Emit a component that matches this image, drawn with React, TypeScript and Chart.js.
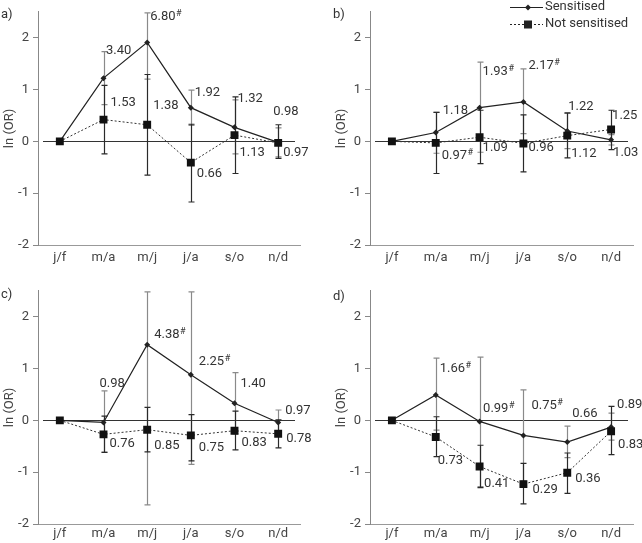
import React, { useEffect, useRef } from "react";
import { Chart, registerables } from "chart.js";

Chart.register(...registerables);

// ---------- data ----------
const categories = ["j/f", "m/a", "m/j", "j/a", "s/o", "n/d"];
const yTickValues = [-2, -1, 0, 1, 2];
const seriesNames = ["Sensitised", "Not sensitised"];

// panel a
const aSens = [0, 1.22, 1.91, 0.65, 0.27, -0.02];
const aSensLo = [null, 0.71, 1.2, 0.31, -0.24, -0.3];
const aSensHi = [null, 1.73, 2.48, 0.99, 0.8, 0.26];
const aNot = [0, 0.42, 0.32, -0.41, 0.12, -0.03];
const aNotLo = [null, -0.24, -0.65, -1.17, -0.62, -0.33];
const aNotHi = [null, 1.08, 1.29, 0.33, 0.86, 0.32];
const aLabels = ["6.80#", "3.40", "1.53", "1.38", "1.92", "1.32", "0.98", "0.66", "1.13", "0.97"];
const aLabelCat = [2, 1, 1, 2, 3, 4, 5, 3, 4, 5];
const aLabelY = [2.4, 1.75, 0.74, 0.68, 0.93, 0.83, 0.57, -0.62, -0.22, -0.22];

// panel b
const bSens = [0, 0.17, 0.65, 0.76, 0.2, 0.03];
const bSensLo = [null, -0.23, -0.21, 0.15, -0.14, -0.07];
const bSensHi = [null, 0.56, 1.53, 1.4, 0.54, 0.13];
const bNot = [0, -0.03, 0.08, -0.04, 0.11, 0.23];
const bNotLo = [null, -0.62, -0.43, -0.59, -0.32, -0.16];
const bNotHi = [null, 0.56, 0.6, 0.51, 0.55, 0.6];
const bLabels = ["1.18", "1.93#", "2.17#", "1.22", "1.25", "0.97#", "1.09", "0.96", "1.12", "1.03"];
const bLabelCat = [1, 2, 3, 4, 5, 1, 2, 3, 4, 5];
const bLabelY = [0.59, 1.35, 1.45, 0.66, 0.49, -0.28, -0.12, -0.12, -0.24, -0.22];

// panel c
const cSens = [0, -0.04, 1.46, 0.88, 0.33, -0.04];
const cSensLo = [null, -0.61, -1.63, -0.85, -0.26, -0.28];
const cSensHi = [null, 0.57, 2.48, 2.48, 0.92, 0.2];
const cNot = [0, -0.27, -0.18, -0.29, -0.2, -0.26];
const cNotLo = [null, -0.62, -0.61, -0.78, -0.57, -0.53];
const cNotHi = [null, 0.08, 0.25, 0.11, 0.18, 0.01];
const cLabels = ["0.98", "4.38#", "2.25#", "1.40", "0.97", "0.76", "0.85", "0.75", "0.83", "0.78"];
const cLabelCat = [1, 2, 3, 4, 5, 1, 2, 3, 4, 5];
const cLabelY = [0.7, 1.66, 1.14, 0.7, 0.18, -0.45, -0.49, -0.52, -0.43, -0.35];

// panel d
const dSens = [0, 0.49, -0.02, -0.29, -0.42, -0.13];
const dSensLo = [null, -0.19, -1.28, -1.17, -0.72, -0.38];
const dSensHi = [null, 1.2, 1.22, 0.59, -0.11, 0.14];
const dNot = [0, -0.32, -0.89, -1.23, -1.01, -0.21];
const dNotLo = [null, -0.7, -1.3, -1.61, -1.41, -0.66];
const dNotHi = [null, 0.07, -0.48, -0.83, -0.63, 0.27];
const dLabels = ["1.66#", "0.99#", "0.75#", "0.66", "0.89", "0.73", "0.41", "0.29", "0.36", "0.83"];
const dLabelCat = [1, 2, 3, 4, 5, 1, 2, 3, 4, 5];
const dLabelY = [0.99, 0.22, 0.28, 0.13, 0.3, -0.77, -1.23, -1.33, -1.12, -0.47];

// ---------- layout / style (not data) ----------
const FONT = "Roboto, 'Liberation Sans', sans-serif";
const aLabelDx = [3, 2.5, 7, 6, 4, 3, -5, 6, 5, 5];
const bLabelDx = [7, 3, 5, 1, 1, 6, 3, 5, 4, 2];
const cLabelDx = [-4, 7, 8, 6, 7, 6, 7, 8, 7, 8];
const dLabelDx = [4, 3.5, 8, 5, 6, 2, 4.5, 9, 8, 7];

type PanelCfg = {
  letter: string;
  sens: number[]; sensLo: (number | null)[]; sensHi: (number | null)[];
  not: number[]; notLo: (number | null)[]; notHi: (number | null)[];
  labels: string[]; labelCat: number[]; labelY: number[]; labelDx: number[];
  box: { x: number; y: number; w: number; h: number; padTop: number; padRight: number; axisH: number; tickPad: number; letterY: number };
  legend?: boolean;
};

const panels: PanelCfg[] = [
  {
    letter: "a)", sens: aSens, sensLo: aSensLo, sensHi: aSensHi, not: aNot, notLo: aNotLo, notHi: aNotHi,
    labels: aLabels, labelCat: aLabelCat, labelY: aLabelY, labelDx: aLabelDx,
    box: { x: 0, y: 0, w: 322, h: 270, padTop: 10, padRight: 22, axisH: 25, tickPad: 5, letterY: 15 },
  },
  {
    letter: "b)", sens: bSens, sensLo: bSensLo, sensHi: bSensHi, not: bNot, notLo: bNotLo, notHi: bNotHi,
    labels: bLabels, labelCat: bLabelCat, labelY: bLabelY, labelDx: bLabelDx,
    box: { x: 332, y: 0, w: 310, h: 270, padTop: 10, padRight: 9, axisH: 25, tickPad: 5, letterY: 15 },
    legend: true,
  },
  {
    letter: "c)", sens: cSens, sensLo: cSensLo, sensHi: cSensHi, not: cNot, notLo: cNotLo, notHi: cNotHi,
    labels: cLabels, labelCat: cLabelCat, labelY: cLabelY, labelDx: cLabelDx,
    box: { x: 0, y: 279, w: 322, h: 264, padTop: 9, padRight: 22, axisH: 19, tickPad: 2, letterY: 16 },
  },
  {
    letter: "d)", sens: dSens, sensLo: dSensLo, sensHi: dSensHi, not: dNot, notLo: dNotLo, notHi: dNotHi,
    labels: dLabels, labelCat: dLabelCat, labelY: dLabelY, labelDx: dLabelDx,
    box: { x: 332, y: 279, w: 310, h: 264, padTop: 9, padRight: 9, axisH: 19, tickPad: 2, letterY: 18 },
  },
];

function drawLabel(ctx: CanvasRenderingContext2D, text: string, x: number, y: number) {
  const hash = text.endsWith("#");
  const main = hash ? text.slice(0, -1) : text;
  ctx.font = `13px ${FONT}`;
  ctx.textAlign = "left";
  ctx.textBaseline = "middle";
  ctx.fillStyle = "#333";
  ctx.fillText(main, x, y);
  if (hash) {
    const w = ctx.measureText(main).width;
    ctx.font = `9px ${FONT}`;
    ctx.fillText("#", x + w + 0.5, y - 3);
  }
}

function makePlugin(p: PanelCfg) {
  return {
    id: "extras",
    beforeDatasetsDraw(chart: any) {
      const { ctx, chartArea, scales } = chart;
      const x = scales.x, y = scales.y;
      ctx.save();
      const y0 = Math.round(y.getPixelForValue(0)) + 0.5;
      ctx.strokeStyle = "#333";
      ctx.lineWidth = 1;
      ctx.beginPath();
      ctx.moveTo(chartArea.left + 5, y0);
      ctx.lineTo(chartArea.right - 5, y0);
      ctx.stroke();
      ctx.beginPath();
      ctx.rect(chartArea.left, chartArea.top - 1, chartArea.right - chartArea.left, chartArea.bottom - chartArea.top + 1);
      ctx.clip();
      const bars = (lo: (number | null)[], hi: (number | null)[], color: string) => {
        ctx.strokeStyle = color;
        ctx.lineWidth = 1.2;
        for (let i = 0; i < categories.length; i++) {
          const l = lo[i], h = hi[i];
          if (l == null || h == null) continue;
          const px = Math.round(x.getPixelForValue(i)) + 0.5;
          const pl = y.getPixelForValue(l), ph = y.getPixelForValue(h);
          ctx.beginPath();
          ctx.moveTo(px, pl); ctx.lineTo(px, ph);
          ctx.moveTo(px - 3, pl); ctx.lineTo(px + 3, pl);
          ctx.moveTo(px - 3, ph); ctx.lineTo(px + 3, ph);
          ctx.stroke();
        }
      };
      bars(p.sensLo, p.sensHi, "#8a8a8a");
      bars(p.notLo, p.notHi, "#2a2a2a");
      ctx.restore();
    },
    afterDraw(chart: any) {
      const { ctx, scales } = chart;
      const x = scales.x, y = scales.y;
      ctx.save();
      for (let i = 0; i < p.labels.length; i++) {
        const px = x.getPixelForValue(p.labelCat[i]) + p.labelDx[i];
        const py = y.getPixelForValue(p.labelY[i]);
        drawLabel(ctx, p.labels[i], px, py);
      }
      ctx.font = `13px ${FONT}`;
      ctx.fillStyle = "#333";
      ctx.textAlign = "left";
      ctx.textBaseline = "middle";
      ctx.fillText(p.letter, 1, p.box.letterY);
      if (p.legend) {
        const lx0 = 178, lx1 = 211, mx = 196, tx = 213;
        const rows = [7, 24];
        ctx.strokeStyle = "#222";
        ctx.lineWidth = 1.2;
        ctx.setLineDash([]);
        ctx.beginPath(); ctx.moveTo(lx0, rows[0] + 0.5); ctx.lineTo(lx1, rows[0] + 0.5); ctx.stroke();
        ctx.fillStyle = "#222";
        ctx.beginPath();
        ctx.moveTo(mx - 3, rows[0] + 0.5); ctx.lineTo(mx, rows[0] - 2.5); ctx.lineTo(mx + 3, rows[0] + 0.5); ctx.lineTo(mx, rows[0] + 3.5);
        ctx.closePath(); ctx.fill();
        ctx.lineWidth = 1;
        ctx.setLineDash([2, 2]);
        ctx.beginPath(); ctx.moveTo(lx0, rows[1] + 0.5); ctx.lineTo(lx1, rows[1] + 0.5); ctx.stroke();
        ctx.setLineDash([]);
        ctx.fillRect(mx - 4, rows[1] - 3.5, 8, 8);
        ctx.fillStyle = "#333";
        ctx.font = `13px ${FONT}`;
        ctx.fillText(seriesNames[0], tx, rows[0]);
        ctx.fillText(seriesNames[1], tx, rows[1]);
      }
      ctx.restore();
    },
  };
}

function Panel({ cfg }: { cfg: PanelCfg }) {
  const ref = useRef<HTMLCanvasElement>(null);
  useEffect(() => {
    const b = cfg.box;
    const chart = new Chart(ref.current as HTMLCanvasElement, {
      type: "line",
      data: {
        labels: categories,
        datasets: [
          {
            label: seriesNames[0],
            data: cfg.sens,
            borderColor: "#222",
            backgroundColor: "#222",
            borderWidth: 1.2,
            pointStyle: "rectRot",
            pointRadius: 3,
            pointBorderWidth: 0,
            tension: 0,
            order: 1,
          },
          {
            label: seriesNames[1],
            data: cfg.not,
            borderColor: "#333",
            backgroundColor: "#111",
            borderWidth: 1,
            borderDash: [2, 2],
            pointStyle: "rect",
            pointRadius: 5.6,
            pointBorderWidth: 0,
            tension: 0,
            order: 0,
          },
        ],
      },
      options: {
        responsive: false,
        animation: false,
        devicePixelRatio: 1,
        layout: { padding: { top: b.padTop, right: b.padRight, left: 0, bottom: 0 } },
        plugins: { legend: { display: false }, tooltip: { enabled: false } },
        scales: {
          x: {
            type: "category",
            offset: true,
            grid: { display: false, drawTicks: false, tickLength: 0 },
            border: { display: true, color: "#999", width: 1 },
            ticks: { color: "#444", font: { family: FONT, size: 13 }, padding: b.tickPad, maxRotation: 0, autoSkip: false },
            afterFit: (s: any) => { s.height = b.axisH; },
          },
          y: {
            min: -2,
            max: 2.5,
            afterBuildTicks: (s: any) => { s.ticks = yTickValues.map((v) => ({ value: v })); },
            ticks: { color: "#444", font: { family: FONT, size: 13 }, padding: 4 },
            grid: { drawOnChartArea: false, drawTicks: true, tickLength: 5, color: "#888" },
            border: { display: true, color: "#888", width: 1 },
            title: { display: true, text: "ln (OR)", color: "#444", font: { family: FONT, size: 13 }, padding: { top: 2, bottom: 0 } },
            afterFit: (s: any) => { s.width = 38; },
          },
        },
      } as any,
      plugins: [makePlugin(cfg)],
    });
    return () => chart.destroy();
  }, []);
  const b = cfg.box;
  return (
    <canvas
      ref={ref}
      width={b.w}
      height={b.h}
      style={{ position: "absolute", left: b.x, top: b.y, width: b.w, height: b.h }}
    />
  );
}

export default function App() {
  return (
    <div style={{ position: "absolute", left: 0, top: 0, width: 642, height: 543, background: "#fff", overflow: "hidden" }}>
      {panels.map((p) => (
        <Panel key={p.letter} cfg={p} />
      ))}
    </div>
  );
}
